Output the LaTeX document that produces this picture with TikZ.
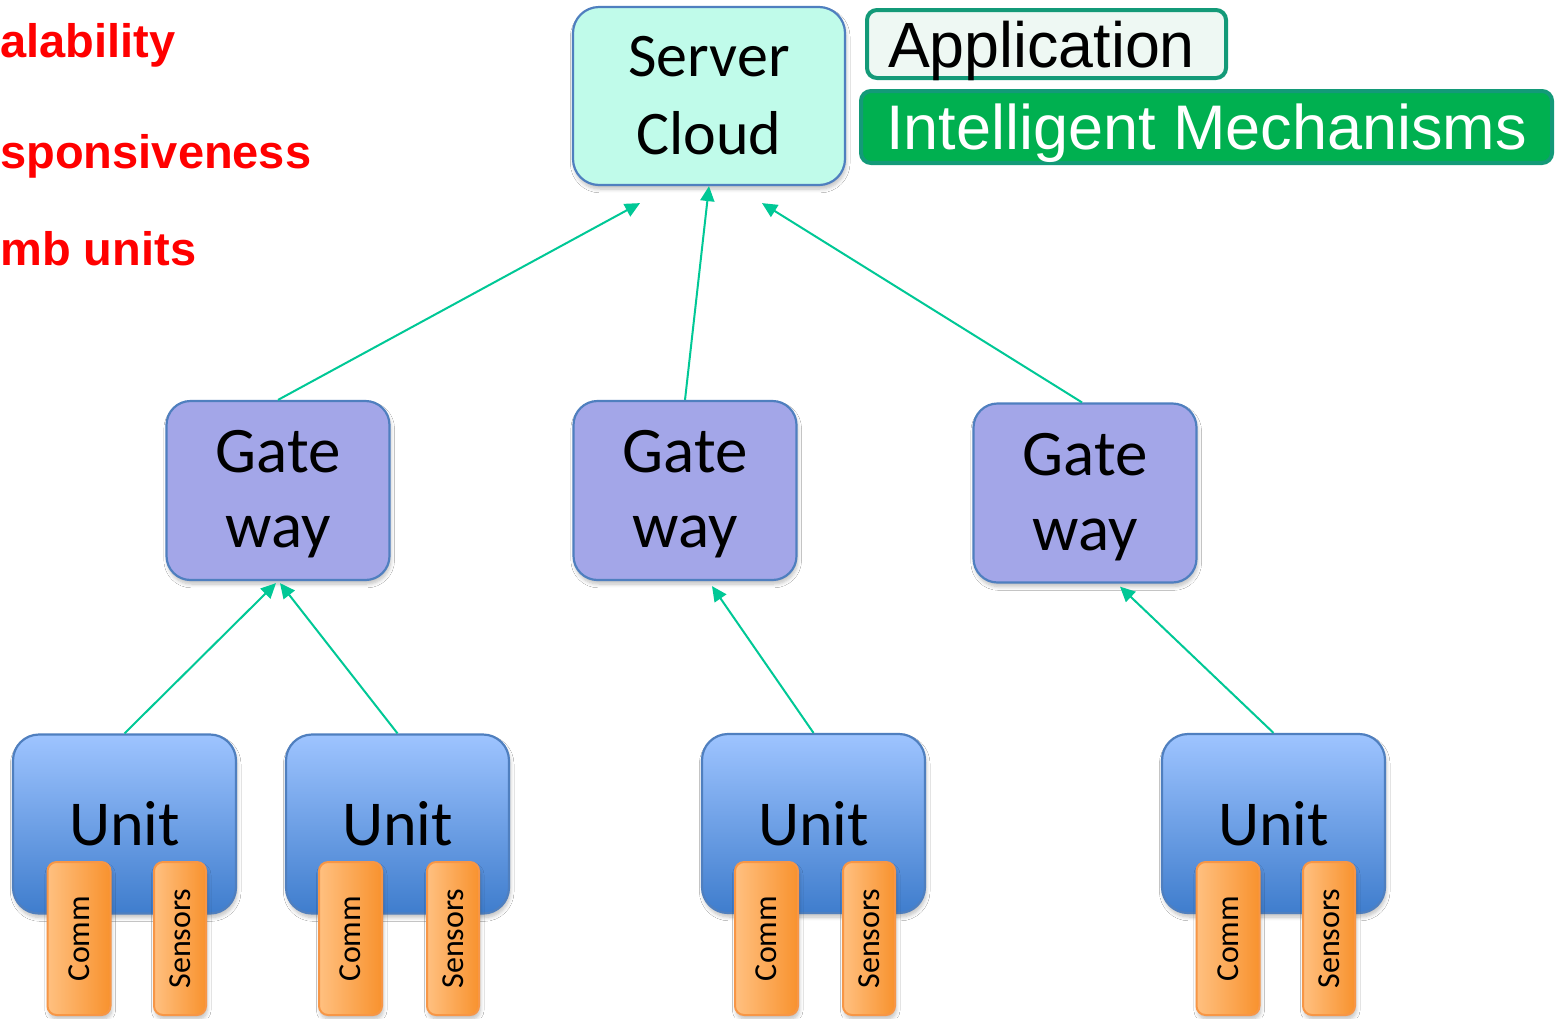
\documentclass[tikz,border=0pt]{standalone}
\usepackage{fontspec}
\setmainfont{Carlito}
\newfontfamily\arialfont{Liberation Sans}
\newfontfamily\arialnarrow{Liberation Sans}[FakeStretch=0.98]
\usetikzlibrary{arrows.meta,calc,shadows.blur}

\definecolor{edgeblue}{HTML}{4F7FBF}
\definecolor{cloudfill}{HTML}{C0FBEA}
\definecolor{gatefill}{HTML}{A3A6E8}
\definecolor{unittop}{HTML}{9EC4FF}
\definecolor{unitbot}{HTML}{3F7DCD}
\definecolor{orangeL}{HTML}{FFC080}
\definecolor{orangeR}{HTML}{F8922E}
\definecolor{orangeEdge}{HTML}{F79646}
\definecolor{linkgreen}{HTML}{00C896}
\definecolor{appedge}{HTML}{139A78}
\definecolor{appfill}{HTML}{EEF8F3}
\definecolor{mechfill}{HTML}{00B050}
\definecolor{alertred}{HTML}{FF0000}

\tikzset{
  softshadow/.style={blur shadow={shadow xshift=0.6pt, shadow yshift=-2pt,
      shadow blur steps=6, shadow opacity=25}},
  cloudbox/.style={draw=edgeblue, line width=1.1pt, fill=cloudfill,
      rounded corners=13pt, inner sep=0pt, align=center, softshadow,
      font=\fontsize{31}{39}\selectfont},
  gatebox/.style={draw=edgeblue, line width=1.1pt, fill=gatefill,
      rounded corners=12pt, inner sep=0pt, align=center, softshadow,
      minimum width=111.5pt, minimum height=89.5pt,
      font=\fontsize{32.5}{37.5}\selectfont},
  unitbox/.style={draw=edgeblue, line width=1.1pt, top color=unittop,
      bottom color=unitbot, rounded corners=13pt, inner sep=0pt, softshadow,
      minimum width=111.5pt, minimum height=89.5pt,
      font=\fontsize{32}{38}\selectfont},
  partbox/.style={draw=orangeEdge, line width=1pt, left color=orangeL,
      right color=orangeR, rounded corners=4.5pt, inner sep=0pt, softshadow,
      minimum height=76.5pt, font=\fontsize{16}{19}\selectfont},
  commbox/.style={partbox, minimum width=31.5pt},
  sensbox/.style={partbox, minimum width=26pt},
  tagbox/.style={rounded corners=5pt, line width=2pt, inner sep=0pt,
      text depth=0pt},
  link/.style={draw=linkgreen, line width=1pt,
      -{Triangle[length=7.5pt,width=7pt]}},
  alert/.style={text=alertred, anchor=base west, inner sep=0pt,
      font=\arialfont\bfseries\fontsize{23.5}{28}\selectfont},
}

\begin{document}
\begin{tikzpicture}[x=0.5pt,y=-0.5pt]
\useasboundingbox (0,0) rectangle (1556,1018);
\fill[white] (0,0) rectangle (1556,1018);

% goals listed on the left
\node[alert] (g1) at (0,57) {alability};
\node[alert] (g2) at (0,168) {sponsiveness};
\node[alert] (g3) at (0,265) {mb units};

% top tier
\node[cloudbox, minimum width=136pt, minimum height=89pt] (sc) at (709,96) {Server\\Cloud};
\node[tagbox, draw=appedge, fill=appfill, minimum width=179.5pt, minimum height=34pt,
      inner xsep=10.5pt, text width=158.5pt, align=left,
      font=\arialnarrow\fontsize{32}{36}\selectfont] (app) at (1046.5,44) {Application};
\node[tagbox, draw=appedge, fill=mechfill, text=white, minimum width=345.5pt, minimum height=36pt,
      font=\arialfont\fontsize{31.5}{36}\selectfont] (mech) at (1206.5,127) {Intelligent Mechanisms};

% gateways (the empty first line nudges the label a little lower)
\node[gatebox] (gw1) at (278,490.5) {\\[-12.5pt]Gate\\way};
\node[gatebox] (gw2) at (685,490.5) {\\[-12.5pt]Gate\\way};
\node[gatebox] (gw3) at (1085,493) {\\[-12.5pt]Gate\\way};

% units
\node[unitbox] (u1) at (124.5,824) {Unit};
\node[unitbox] (u2) at (397.5,824) {Unit};
\node[unitbox] (u3) at (813.5,823.5) {Unit};
\node[unitbox] (u4) at (1273.5,823.5) {Unit};

% unit parts
\node[commbox] (c1) at (79,938.5)   {\rotatebox{90}{Comm}};
\node[sensbox] (s1) at (180,938.5)  {\rotatebox{90}{Sensors}};
\node[commbox] (c2) at (350.5,938.5) {\rotatebox{90}{Comm}};
\node[sensbox] (s2) at (453,938.5)  {\rotatebox{90}{Sensors}};
\node[commbox] (c3) at (766.5,938.5) {\rotatebox{90}{Comm}};
\node[sensbox] (s3) at (869,938.5)  {\rotatebox{90}{Sensors}};
\node[commbox] (c4) at (1228,938.5) {\rotatebox{90}{Comm}};
\node[sensbox] (s4) at (1329,938.5) {\rotatebox{90}{Sensors}};

% uplinks
\draw[link] (gw1.north) -- ($(sc.south)+(-69,17)$);
\draw[link] (gw2.north) -- (sc.south);
\draw[link] ([xshift=-1.5pt]gw3.north) -- ($(sc.south)+(53,17)$);
\draw[link] (u1.north) -- ($(gw1.south)+(-2,2)$);
\draw[link] (u2.north) -- ($(gw1.south)+(2,2)$);
\draw[link] (u3.north) -- ($(gw2.south)+(27,5)$);
\draw[link] (u4.north) -- ($(gw3.south)+(35,3)$);
\end{tikzpicture}
\end{document}
